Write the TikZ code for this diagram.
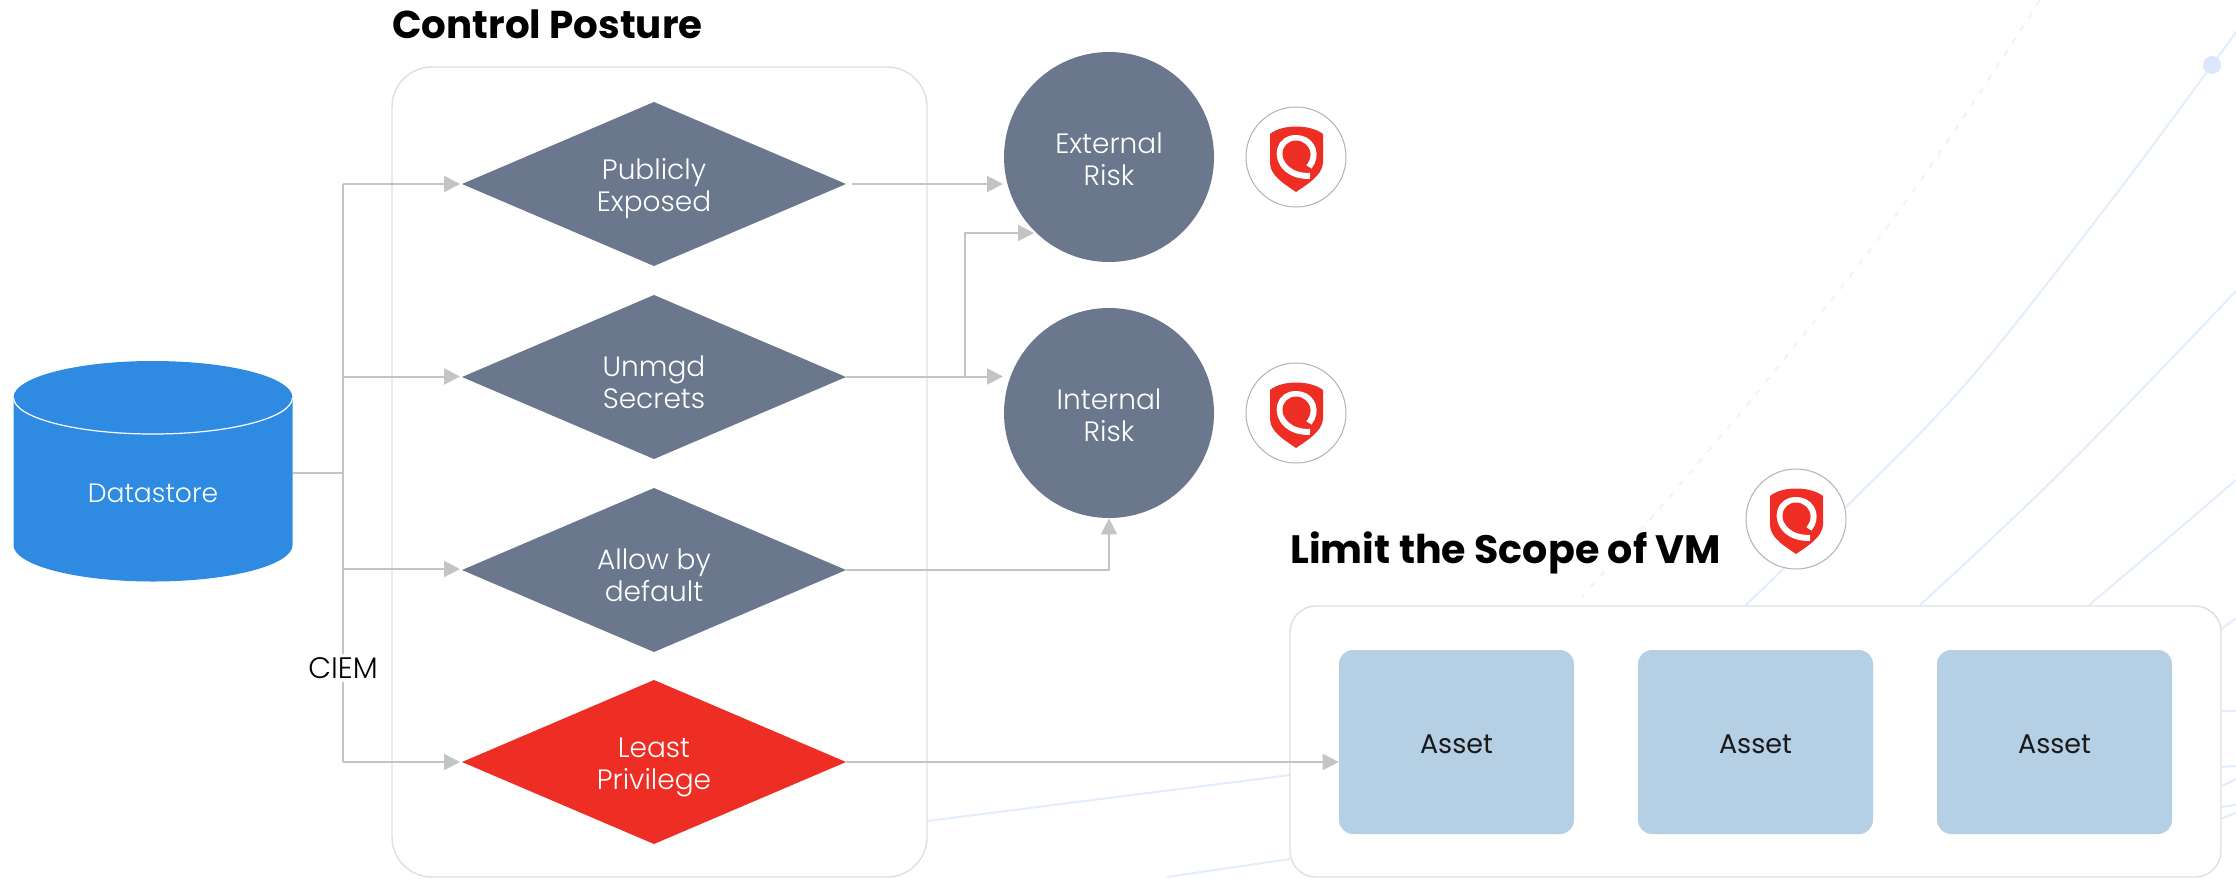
\documentclass[tikz,border=0pt]{standalone}
\usepackage{fontspec}
\setmainfont{Poppins}
\newfontfamily\lightf{Poppins Light}
\usetikzlibrary{arrows.meta}
\definecolor{slate}{HTML}{6B778C}
\definecolor{dsblue}{HTML}{2F8BE2}
\definecolor{assetblue}{HTML}{B5CFE5}
\definecolor{qred}{HTML}{EE2E24}
\definecolor{linegray}{HTML}{C4C4C4}
\definecolor{boxline}{HTML}{DEDFE2}
\definecolor{arc}{HTML}{E4EDFD}
\definecolor{arcfaint}{HTML}{EDF3FE}
\definecolor{dotblue}{HTML}{DAE7FC}
\tikzset{
  x=0.5pt,y=-0.5pt,
  flow/.style={draw=linegray,line width=1pt,-{Triangle[length=8pt,width=8pt,fill=linegray]}},
  plain/.style={draw=linegray,line width=1pt},
  lbl/.style={font=\lightf\fontsize{14}{16}\selectfont,text=white,align=center,inner sep=0pt},
  assetbox/.style={fill=assetblue,rounded corners=7pt},
  assettxt/.style={font=\fontsize{13.5}{16}\selectfont,text=black!90,inner sep=0pt},
  panel/.style={draw=boxline,fill=white,line width=0.7pt},
  head/.style={font=\fontsize{19.4}{22}\selectfont\bfseries,text=black,anchor=west,inner sep=0pt},
  arcline/.style={draw=arc,line width=1pt},
  badge/.style={circle,draw=black!30,fill=white,line width=0.5pt,minimum size=50pt,inner sep=0pt},
}
\newcommand{\qlogo}[1]{%
  \begin{scope}[shift={#1}]
    \fill[qred] (-26,-23) .. controls (-14,-33) and (14,-33) .. (27,-23)
      -- (27,6) .. controls (26,19) and (10,28) .. (0,35)
      .. controls (-10,28) and (-26,19) .. (-26,6) -- cycle;
    \draw[white,line width=3pt] (14,19) .. controls (2,19) and (-4,16) .. (-9,12)
      .. controls (-22,0) and (-17,-19) .. (0,-19)
      .. controls (14,-19) and (21,-6) .. (16,5) -- (13,10);
    \fill[qred] (0,-3) circle[radius=13.5];
  \end{scope}}
\begin{document}
\begin{tikzpicture}
\useasboundingbox (0,0) rectangle (2236,878);
\fill[white] (0,0) rectangle (2236,878);
% background arcs
\draw[draw=arcfaint,line width=1pt,dash pattern=on 3pt off 4.5pt] plot[smooth,tension=0.6] coordinates {(2040,0) (1904,204) (1742,411) (1582,597)};
\draw[arcline] plot[smooth,tension=0.6] coordinates {(2236,32) (2212,65) (2110,202) (1969,380) (1847,506) (1746,605)};
\draw[arcline] plot[smooth,tension=0.6] coordinates {(2236,291) (2063,470) (1920,605)};
\draw[arcline] plot[smooth,tension=0.6] coordinates {(2236,480) (2160,545) (2089,605)};
\draw[arcline] (927,821) -- (1290,775);
\draw[arcline] (1167,877) -- (1290,859);
\draw[arcline] (2220,630) -- (2236,618);
\draw[arcline] (2220,711) -- (2236,711);
\draw[arcline] (2220,767) -- (2236,766);
\draw[arcline] (2220,787) -- (2236,779);
\draw[arcline] (2220,807) -- (2236,805);
\draw[arcline] (2220,819) -- (2236,813);
\fill[dotblue] (2212,65) circle[radius=9];
% panels
\node[panel,rounded corners=20pt,minimum width=267.5pt,minimum height=405pt,inner sep=0pt] (ctrl) at (659.5,472) {};
\node[panel,rounded corners=13pt,minimum width=465.5pt,minimum height=135.5pt,inner sep=0pt] (scope) at (1755.5,741.5) {};
\node[head] (t1) at (392,24) {Control Posture};
\node[head,font=\fontsize{19.8}{22}\selectfont\bfseries] (t2) at (1290,553) {Limit the Scope of VM};
% cylinder
\fill[dsblue] (13.5,397.5) -- (13.5,545) arc[x radius=139.5,y radius=36.5,start angle=180,end angle=0] -- (292.5,397.5) -- cycle;
\fill[dsblue] (153,397.5) ellipse[x radius=139.5,y radius=36.5];
\draw[white,line width=0.6pt] (13.5,397.5) arc[x radius=139.5,y radius=36.5,start angle=180,end angle=0];
\node[lbl,font=\lightf\fontsize{13.3}{16}\selectfont] (ds) at (153,493) {Datastore};
\coordinate (dsE) at (292.5,472.5);
\coordinate (trunk) at (343,472.5);
% diamonds
\foreach \n/\y/\c/\t in {d1/184/slate/{Publicly\\Exposed},d2/377/slate/{Unmgd\\Secrets},d3/570/slate/{Allow by\\default},d4/762/qred/{Least\\Privilege}}{
  \fill[\c] (462,\y) -- (654,\y-82) -- (846,\y) -- (654,\y+82) -- cycle;
  \node[lbl] (\n) at (654,\y+5) {\t};
}
\coordinate (d1L) at (460,184);
\coordinate (d2L) at (460,376.5);
\coordinate (d3L) at (460,569);
\coordinate (d4L) at (460,762);
\coordinate (d1R) at (852,184);
\coordinate (d2R) at (846,376.5);
\coordinate (d3R) at (846,570);
\coordinate (d4R) at (846,762);
% circles
\node[circle,fill=slate,minimum size=105pt,inner sep=0pt] (ext) at (1109,157) {};
\node[circle,fill=slate,minimum size=105pt,inner sep=0pt] (int) at (1109,413) {};
\node[lbl] (extl) at (1109,159) {External\\Risk};
\node[lbl] (intl) at (1109,415) {Internal\\Risk};
% assets
\node[assetbox,minimum width=117.5pt,minimum height=92pt,inner sep=0pt] (a1) at (1456.5,742) {};
\node[assetbox,minimum width=117.5pt,minimum height=92pt,inner sep=0pt] (a2) at (1755.5,742) {};
\node[assetbox,minimum width=117.5pt,minimum height=92pt,inner sep=0pt] (a3) at (2054.5,742) {};
\node[assettxt] at (1456.5,744) {Asset};
\node[assettxt] at (1755.5,744) {Asset};
\node[assettxt] at (2054.5,744) {Asset};
% connectors
\draw[plain] (dsE) -- (trunk);
\draw[plain] (343,184) -- (343,762);
\draw[flow] (343,184) -- (d1L);
\draw[flow] (343,376.5) -- (d2L);
\draw[flow] (343,569) -- (d3L);
\draw[flow] (343,762) -- (d4L);
\draw[flow] (d1R) -- (1003,184);
\draw[flow] (d2R) -- (1003,376.5);
\draw[flow] (965,376.5) -- (965,233) -- (1034,233);
\draw[flow] (d3R) -- (1109,570) -- (int.south);
\draw[flow] (d4R) -- (a1.west |- d4R);
\node[fill=white,font=\lightf\fontsize{14.8}{16}\selectfont,text=black,inner sep=1.5pt] (ciem) at (343,668) {CIEM};
% badges
\node[badge] (b1) at (1296,157) {};
\node[badge] (b2) at (1296,413) {};
\node[badge] (b3) at (1796,519) {};
\qlogo{(1296,157)}
\qlogo{(1296,413)}
\qlogo{(1796,519)}
\end{tikzpicture}
\end{document}
